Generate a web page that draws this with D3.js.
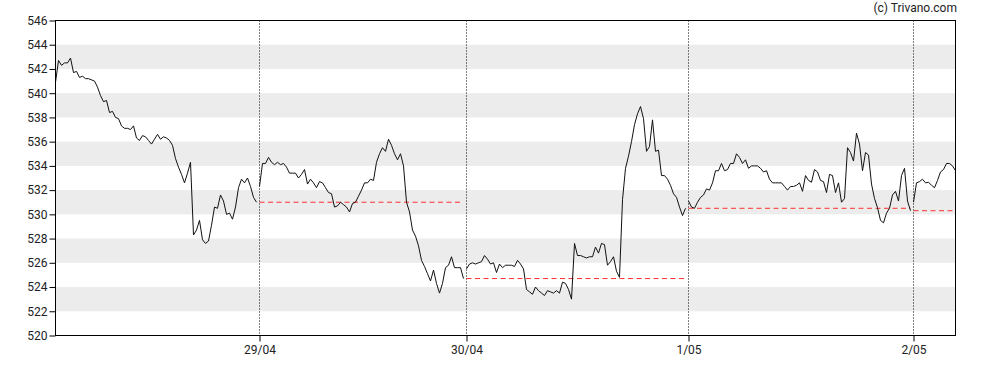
<!DOCTYPE html>
<html>
<head>
<meta charset="utf-8">
<script src="https://cdn.jsdelivr.net/npm/d3@7"></script>
<style>
  body { margin: 0; background: #fff; }
  .axis text { font: 12px Roboto, sans-serif; fill: #222; }
  .copyright { font: 12px Roboto, sans-serif; fill: #222; }
</style>
</head>
<body>
<div class="main"></div>
<script>
// Cours par séance
const day1 = [540.9, 542.7, 542.3, 542.5, 542.5, 542.9, 541.7, 541.8, 541.3, 541.4,
              541.2, 541.2, 541.1, 541.0, 540.5, 539.8, 539.3, 539.4, 538.4, 538.5,
              538.0, 537.9, 537.3, 537.1, 537.1, 537.0, 537.3, 536.3, 536.1, 536.5,
              536.4, 536.1, 535.8, 536.2, 536.6, 536.2, 536.4, 536.3, 536.1, 535.7,
              534.6, 533.9, 533.3, 532.6, 533.4, 534.3, 528.3, 528.7, 529.5, 527.9,
              527.6, 527.8, 529.1, 530.6, 530.5, 531.6, 531.1, 530.0, 530.1, 529.6,
              530.6, 532.2, 532.9, 532.6, 533.0, 532.3, 531.4, 531.0];
const day2 = [532.3, 534.2, 534.2, 534.7, 534.3, 534.1, 534.3, 534.1, 534.2, 533.9,
              533.4, 533.4, 533.4, 533.0, 533.3, 533.7, 532.5, 532.9, 532.6, 532.2,
              532.7, 532.6, 532.2, 531.8, 531.7, 530.6, 530.7, 531.0, 530.8, 530.6,
              530.2, 530.9, 531.0, 531.5, 532.0, 532.6, 532.6, 532.9, 532.8, 534.3,
              535.0, 535.5, 535.2, 536.2, 535.7, 535.0, 534.5, 535.0, 534.0, 531.0,
              530.2, 528.7, 528.2, 527.4, 526.2, 525.7, 525.1, 524.5, 525.4, 524.3,
              523.5, 524.3, 525.6, 525.8, 526.5, 525.6, 525.6, 525.6, 524.7];
const day3 = [525.5, 525.9, 526.0, 525.9, 526.0, 526.1, 526.6, 526.3, 525.9, 526.0,
              525.2, 525.9, 525.6, 525.8, 525.8, 525.8, 525.7, 526.2, 525.9, 525.5,
              523.8, 523.6, 523.4, 524.0, 523.7, 523.5, 523.3, 523.7, 523.6, 523.5,
              523.7, 523.5, 524.4, 524.3, 523.8, 523.0, 527.6, 526.6, 526.6, 526.5,
              526.4, 526.5, 526.5, 527.3, 526.8, 527.6, 527.5, 525.8, 526.1, 526.5,
              525.3, 524.8, 531.2, 533.8, 534.8, 536.0, 537.4, 538.3, 538.9, 537.9,
              535.2, 535.6, 537.8, 535.2, 535.3, 533.2, 533.2, 532.9, 532.4, 531.7,
              531.4, 530.6, 529.9, 530.5];
const day4 = [531.1, 530.6, 530.5, 531.0, 531.4, 531.6, 532.1, 532.0, 532.6, 533.6,
              533.6, 534.2, 533.6, 533.7, 534.2, 534.2, 535.0, 534.7, 534.2, 534.5,
              533.8, 534.0, 534.0, 534.0, 533.8, 533.5, 533.6, 532.9, 532.6, 532.6,
              532.6, 532.6, 532.3, 532.0, 532.3, 532.3, 532.4, 532.6, 531.9, 533.2,
              532.8, 532.65, 533.7, 533.5, 532.8, 532.7, 531.8, 533.3, 533.2, 531.8,
              532.6, 531.0, 531.3, 535.5, 535.1, 534.4, 536.7, 535.8, 533.6, 535.1,
              534.9, 532.5, 531.3, 530.55, 529.5, 529.3, 530.1, 530.5, 531.6, 531.9,
              531.1, 533.2, 533.8, 531.1, 530.3];
const day5 = [531.0, 532.6, 532.7, 532.9, 532.6, 532.65, 532.4, 532.2, 532.8, 533.5,
              533.7, 534.2, 534.2, 534.0, 533.6];

const days = [day1, day2, day3, day4, day5];
const tickLabels = ["29/04", "30/04", "1/05", "2/05"];
const yTicks = d3.range(520, 547, 2);

// Dimensions et marges
const margin = { top: 20.5, right: 32.5, bottom: 34.5, left: 55.5 };
const width = 988 - margin.left - margin.right;
const height = 370 - margin.top - margin.bottom;

const root = d3.select('.main')
               .append('svg')
                   .attr('width', 988)
                   .attr('height', 370);
const svg = root.append('g')
                .attr('transform', 'translate(' + margin.left + ',' + margin.top + ')');

// Index de départ de chaque séance
const starts = [];
let n = 0;
days.forEach(function(d) { starts.push(n); n += d.length; });

const x = d3.scaleLinear().domain([0, n - 1]).range([0, width]);
const y = d3.scaleLinear().domain([520, 546]).range([height, 0]);

// Bandes grises
svg.selectAll('.band')
    .data(yTicks.filter(function(v) { return (v - 522) % 4 === 0 && v < 546; }))
    .join('rect')
        .attr('class', 'band')
        .attr('x', 0)
        .attr('width', width)
        .attr('y', function(d) { return y(d + 2); })
        .attr('height', function(d) { return y(d) - y(d + 2); })
        .attr('fill', '#ececec');

// Séparateurs de jours (pointillés)
svg.selectAll('.sep')
    .data(starts.slice(1))
    .join('line')
        .attr('class', 'sep')
        .attr('x1', function(d) { return x(d); })
        .attr('x2', function(d) { return x(d); })
        .attr('y1', 0)
        .attr('y2', height)
        .attr('stroke', '#000')
        .attr('stroke-dasharray', '1,2');

// Clôture de la veille (tirets rouges)
svg.selectAll('.prev')
    .data(days.slice(1).map(function(d, i) {
        const prev = days[i];
        return { from: starts[i + 1], to: starts[i + 1] + d.length - 1, v: prev[prev.length - 1] };
    }))
    .join('line')
        .attr('class', 'prev')
        .attr('x1', function(d) { return x(d.from); })
        .attr('x2', function(d) { return x(d.to); })
        .attr('y1', function(d) { return y(d.v); })
        .attr('y2', function(d) { return y(d.v); })
        .attr('stroke', '#ff3030')
        .attr('stroke-dasharray', '5,3.5');

// Courbe des cours, une par séance
days.forEach(function(d, i) {
    const line = d3.line()
        .x(function(v, j) { return x(starts[i] + j); })
        .y(function(v) { return y(v); });
    svg.append('path')
        .datum(d)
        .attr('fill', 'none')
        .attr('stroke', '#111')
        .attr('stroke-width', 1)
        .attr('d', line);
});

// Cadre
svg.append('rect')
    .attr('width', width)
    .attr('height', height)
    .attr('fill', 'none')
    .attr('stroke', '#000');

// Axes
svg.append('g')
    .attr('class', 'axis')
    .call(d3.axisLeft(y).tickValues(yTicks).tickSize(6).tickPadding(2))
    .call(function(g) { g.select('.domain').remove(); });

svg.append('g')
    .attr('class', 'axis')
    .attr('transform', 'translate(0,' + height + ')')
    .call(d3.axisBottom(x)
            .tickValues(starts.slice(1))
            .tickFormat(function(d, i) { return tickLabels[i]; })
            .tickSize(6)
            .tickPadding(4))
    .call(function(g) { g.select('.domain').remove(); });

root.append('text')
    .attr('class', 'copyright')
    .attr('x', 957)
    .attr('y', 12)
    .attr('text-anchor', 'end')
    .text('(c) Trivano.com');
</script>
</body>
</html>
